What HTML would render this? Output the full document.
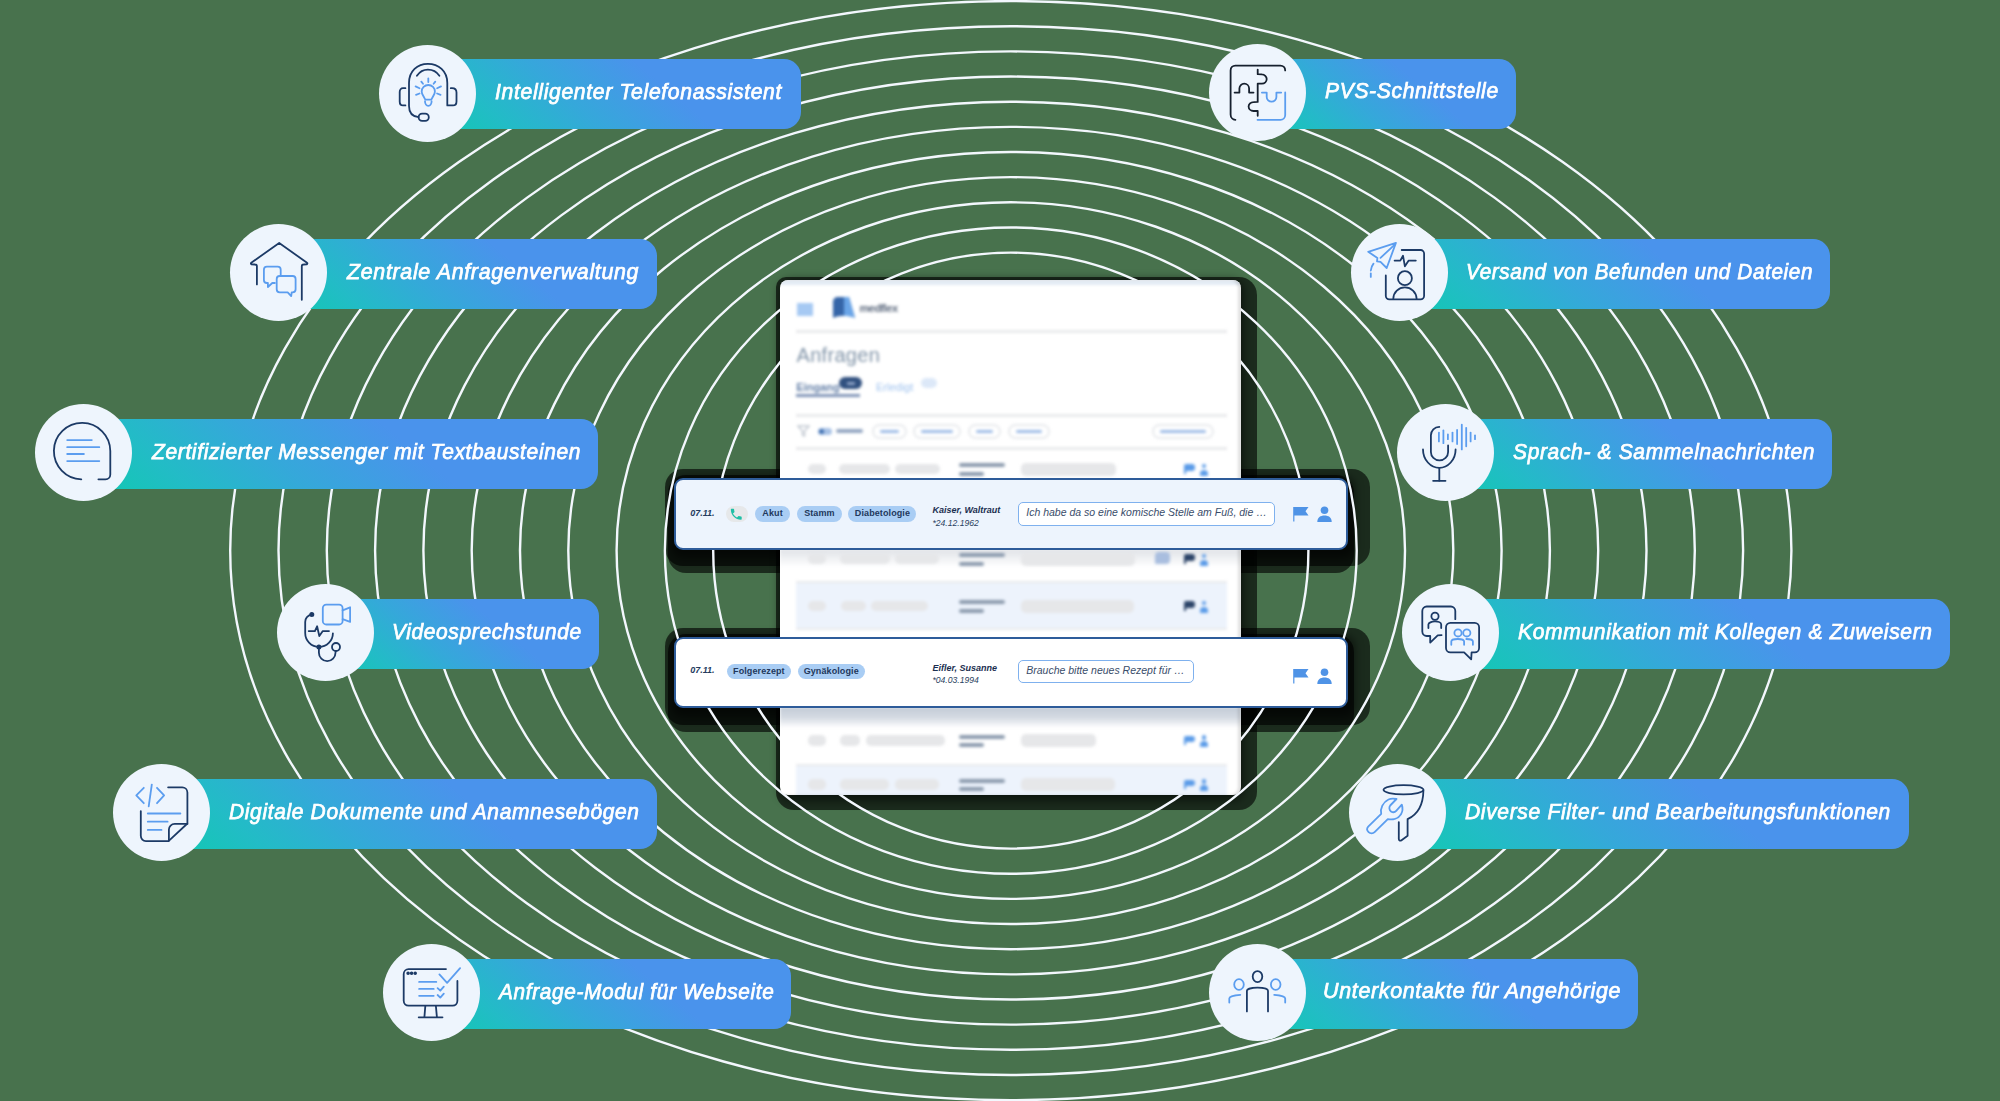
<!DOCTYPE html>
<html><head><meta charset="utf-8"><style>
*{box-sizing:border-box}
html,body{margin:0;padding:0}
body{width:2000px;height:1101px;background:#48724d;position:relative;overflow:hidden;font-family:"Liberation Sans",sans-serif}
.abs{position:absolute}
.bar{position:absolute;height:70px;border-radius:0 17px 17px 0;background:linear-gradient(40deg,#10cab0 0%,#22bcc6 18%,#35a8da 38%,#4a93ec 63%,#4a93ec 100%)}
.circ{position:absolute;width:97px;height:97px;border-radius:50%;background:#eef5fd}
.circ svg{position:absolute;left:0;top:0}
.ptxt{position:absolute;color:#fff;font-style:italic;font-size:22px;white-space:nowrap;line-height:1;transform-origin:0 0;-webkit-text-stroke:0.75px #fff;letter-spacing:0.7px}
.shadow{position:absolute;background:#000}
.win{position:absolute;left:780px;top:280px;width:460.5px;height:514.5px;background:#fff;border-radius:8px;overflow:hidden}
.wc{position:absolute;left:0;top:0;width:100%;height:100%;filter:blur(1.6px)}
.wc div{position:absolute}
.g{background:#e6e7e9;border-radius:5px}
.sep{background:#e9eaec;height:2.5px}
.row{position:absolute;left:674.25px;width:673.5px;border:2px solid #2e5c9a;border-radius:9px}
.row div, .row span{position:absolute;white-space:nowrap;line-height:1}
.tag{background:#a9cdf4;border-radius:8px;color:#22385c;font-size:9px;font-weight:bold;height:15.5px;padding-top:3.2px;text-align:center;letter-spacing:0.1px}
.dt{font-size:9px;font-weight:bold;font-style:italic;color:#243b5e}
.nm{font-size:9px;font-weight:bold;font-style:italic;color:#1b2f50}
.dob{font-size:8.6px;font-style:italic;color:#2a3f60}
.msg{background:#fff;border:1.2px solid #7fb1ee;border-radius:5px;height:23.5px;color:#3a4d6a;font-size:10.5px;font-style:italic;padding:4.3px 0 0 7.5px}
</style></head>
<body>
<div class="abs" style="left:776px;top:276.7px;width:481px;height:533px;border-radius:10px 18px 18px 18px;background:rgba(0,0,0,0.62)"></div>
<div class="abs" style="left:665.4px;top:469.4px;width:705px;height:97px;border-radius:18px;background:rgba(0,0,0,0.62)"></div>
<div class="abs" style="left:668px;top:475px;width:686px;height:98px;border-radius:18px;background:rgba(0,0,0,0.62)"></div>
<div class="abs" style="left:665.3px;top:628.3px;width:705px;height:97px;border-radius:18px;background:rgba(0,0,0,0.62)"></div>
<div class="abs" style="left:668px;top:634px;width:686px;height:98px;border-radius:18px;background:rgba(0,0,0,0.62)"></div>
<div class="abs" style="left:779px;top:279px;width:465px;height:522px;border-radius:12px;background:rgba(0,0,0,0.5);filter:blur(4px)"></div>
<div class="abs" style="left:671px;top:476px;width:684px;height:82px;border-radius:12px;background:rgba(0,0,0,0.5);filter:blur(4px)"></div>
<div class="abs" style="left:671px;top:635px;width:684px;height:82px;border-radius:12px;background:rgba(0,0,0,0.5);filter:blur(4px)"></div>
<svg class="abs" style="left:0;top:0" width="2000" height="1101"><g fill="none" stroke="#f3f7fd" stroke-width="2.4"><ellipse cx="1010.8" cy="550.6" rx="780.60" ry="549.50"/><ellipse cx="1010.8" cy="550.6" rx="732.30" ry="524.35"/><ellipse cx="1010.8" cy="550.6" rx="684.00" ry="499.20"/><ellipse cx="1010.8" cy="550.6" rx="635.70" ry="474.05"/><ellipse cx="1010.8" cy="550.6" rx="587.40" ry="448.90"/><ellipse cx="1010.8" cy="550.6" rx="539.10" ry="423.75"/><ellipse cx="1010.8" cy="550.6" rx="490.80" ry="398.60"/><ellipse cx="1010.8" cy="550.6" rx="442.50" ry="373.45"/><ellipse cx="1010.8" cy="550.6" rx="394.20" ry="348.30"/><ellipse cx="1010.8" cy="550.6" rx="345.90" ry="323.15"/><ellipse cx="1010.8" cy="550.6" rx="297.60" ry="298.00"/></g></svg>
<div class="win"><div class="wc"><div class="" style="left:0.0px;top:0.0px;width:460.5px;height:5.0px;background:#e3ebf4"></div><div class="" style="left:16.5px;top:23.0px;width:16.0px;height:13.0px;background:#a6c9f3"></div><svg style="position:absolute;left:52px;top:16px" width="24" height="24" viewBox="0 0 24 24"><path d="M1 22 L1 6 C1 3 3 1 6 1 L17 1 L23 22 C17 19 8 19 1 22 Z" fill="#3565a8"/><path d="M12 1 L17 1 L23 22 C20 20.5 16 20 12 20 Z" fill="#6aa5e8"/></svg><div style="left:79.5px;top:22px;font-size:11px;font-weight:bold;color:#5d6a7e;letter-spacing:-0.5px">medflex</div><div class="sep" style="left:16.0px;top:50.0px;width:430.8px;height:2.5px;"></div><div style="left:16.5px;top:63.5px;font-size:20px;color:#8194a8;letter-spacing:0.3px">Anfragen</div><div style="left:16.299999999999955px;top:101px;font-size:11px;font-weight:bold;color:#6580a8">Eingang</div><div class="" style="left:16.0px;top:114.2px;width:63.5px;height:2.8px;background:#7f93b6"></div><div class="" style="left:59.4px;top:97.0px;width:22.3px;height:12.0px;background:#30507f;border-radius:6px"></div><div class="" style="left:67.0px;top:101.5px;width:8.0px;height:3.0px;background:#8fa3c6;border-radius:1px"></div><div style="left:96px;top:101px;font-size:11px;color:#9fc2ee">Erledigt</div><div class="" style="left:140.5px;top:97.5px;width:16.5px;height:10.5px;background:#dce8f8;border-radius:6px"></div><div class="sep" style="left:16.0px;top:134.2px;width:430.8px;height:2.5px;"></div><svg style="position:absolute;left:16.5px;top:145px" width="13" height="12" viewBox="0 0 13 12"><path d="M1 1 L12 1 L7.5 6 L7.5 11 L5.5 10 L5.5 6 Z" fill="none" stroke="#bfc6cf" stroke-width="1.4"/></svg><div class="" style="left:37.8px;top:147.5px;width:14.0px;height:7.5px;background:#a8c2e6;border-radius:4px"></div><div class="" style="left:38.8px;top:148.5px;width:5.7px;height:5.5px;background:#3f6fb0;border-radius:3px"></div><div class="" style="left:56.0px;top:148.7px;width:26.6px;height:4.3px;background:#93a6c2;border-radius:2px"></div><div class="" style="left:92.4px;top:143.8px;width:34.3px;height:15.0px;border:2px solid #e8eaed;border-radius:8px"></div><div class="" style="left:100.4px;top:149.5px;width:18.3px;height:3.0px;background:#9dbbe6;border-radius:2px"></div><div class="" style="left:133.0px;top:143.8px;width:48.3px;height:15.0px;border:2px solid #e8eaed;border-radius:8px"></div><div class="" style="left:141.0px;top:149.5px;width:32.3px;height:3.0px;background:#9dbbe6;border-radius:2px"></div><div class="" style="left:188.3px;top:143.8px;width:32.9px;height:15.0px;border:2px solid #e8eaed;border-radius:8px"></div><div class="" style="left:196.3px;top:149.5px;width:16.9px;height:3.0px;background:#9dbbe6;border-radius:2px"></div><div class="" style="left:228.2px;top:143.8px;width:42.0px;height:15.0px;border:2px solid #e8eaed;border-radius:8px"></div><div class="" style="left:236.2px;top:149.5px;width:26.0px;height:3.0px;background:#9dbbe6;border-radius:2px"></div><div class="" style="left:371.8px;top:143.8px;width:62.2px;height:15.0px;border:2px solid #e8eaed;border-radius:8px"></div><div class="" style="left:379.8px;top:149.5px;width:46.2px;height:3.0px;background:#9dbbe6;border-radius:2px"></div><div class="sep" style="left:16.0px;top:167.0px;width:430.8px;height:2.5px;"></div><div class="g" style="left:28.0px;top:183.8px;width:18.0px;height:10.5px;"></div><div class="g" style="left:59.0px;top:183.8px;width:50.5px;height:10.5px;"></div><div class="g" style="left:114.5px;top:183.8px;width:45.0px;height:10.5px;"></div><div class="" style="left:179.2px;top:183.3px;width:46.2px;height:4.0px;background:#8c9bae;border-radius:2px"></div><div class="" style="left:178.5px;top:191.8px;width:25.2px;height:4.0px;background:#8c9bae;border-radius:2px"></div><div class="g" style="left:240.8px;top:182.8px;width:94.8px;height:13.0px;"></div><div class="" style="left:404.0px;top:184.3px;width:11.0px;height:6.5px;background:#5a9be8;border-radius:2px 3px 3px 1px"></div><div class="" style="left:404.0px;top:188.8px;width:1.8px;height:5.0px;background:#5a9be8"></div><div class="" style="left:421.5px;top:183.8px;width:4.5px;height:4.5px;background:#5a9be8;border-radius:50%"></div><div class="" style="left:419.6px;top:189.8px;width:8.4px;height:6.0px;background:#5a9be8;border-radius:4px 4px 1px 1px"></div><div class="" style="left:0.0px;top:269.0px;width:460.5px;height:23.0px;background:linear-gradient(#dfe2e6,rgba(255,255,255,0) 80%)"></div><div class="g" style="left:28.0px;top:273.8px;width:18.0px;height:10.5px;"></div><div class="g" style="left:59.6px;top:273.8px;width:50.4px;height:10.5px;"></div><div class="g" style="left:114.8px;top:273.8px;width:44.2px;height:10.5px;"></div><div class="" style="left:179.2px;top:273.3px;width:46.2px;height:4.0px;background:#8c9bae;border-radius:2px"></div><div class="" style="left:178.5px;top:281.8px;width:25.2px;height:4.0px;background:#8c9bae;border-radius:2px"></div><div class="g" style="left:240.8px;top:272.8px;width:114.2px;height:13.0px;"></div><div class="" style="left:375.0px;top:272.3px;width:15.0px;height:11.5px;background:#a9bedf;border-radius:4px 4px 4px 1px"></div><div class="" style="left:404.0px;top:274.3px;width:11.0px;height:6.5px;background:#2c4468;border-radius:2px 3px 3px 1px"></div><div class="" style="left:404.0px;top:278.8px;width:1.8px;height:5.0px;background:#2c4468"></div><div class="" style="left:421.5px;top:273.8px;width:4.5px;height:4.5px;background:#5a9be8;border-radius:50%"></div><div class="" style="left:419.6px;top:279.8px;width:8.4px;height:6.0px;background:#5a9be8;border-radius:4px 4px 1px 1px"></div><div class="sep" style="left:16.0px;top:300.5px;width:430.8px;height:2.5px;"></div><div class="" style="left:16.0px;top:303.0px;width:430.8px;height:44.5px;background:#edf3fc"></div><div class="g" style="left:28.0px;top:320.6px;width:18.0px;height:10.5px;"></div><div class="g" style="left:60.8px;top:320.6px;width:25.2px;height:10.5px;"></div><div class="g" style="left:90.8px;top:320.6px;width:57.6px;height:10.5px;"></div><div class="" style="left:179.2px;top:320.1px;width:46.2px;height:4.0px;background:#8c9bae;border-radius:2px"></div><div class="" style="left:178.5px;top:328.6px;width:25.2px;height:4.0px;background:#8c9bae;border-radius:2px"></div><div class="g" style="left:240.8px;top:319.6px;width:112.8px;height:13.0px;"></div><div class="" style="left:404.0px;top:321.1px;width:11.0px;height:6.5px;background:#2c4468;border-radius:2px 3px 3px 1px"></div><div class="" style="left:404.0px;top:325.6px;width:1.8px;height:5.0px;background:#2c4468"></div><div class="" style="left:421.5px;top:320.6px;width:4.5px;height:4.5px;background:#5a9be8;border-radius:50%"></div><div class="" style="left:419.6px;top:326.6px;width:8.4px;height:6.0px;background:#5a9be8;border-radius:4px 4px 1px 1px"></div><div class="sep" style="left:16.0px;top:347.5px;width:430.8px;height:2.5px;"></div><div class="" style="left:0.0px;top:427.0px;width:460.5px;height:21.0px;background:linear-gradient(#c2cad6,#d4dae2 50%,rgba(255,255,255,0))"></div><div class="g" style="left:28.0px;top:455.4px;width:18.0px;height:10.5px;"></div><div class="g" style="left:59.6px;top:455.4px;width:20.4px;height:10.5px;"></div><div class="g" style="left:86.0px;top:455.4px;width:79.0px;height:10.5px;"></div><div class="" style="left:179.2px;top:454.9px;width:46.2px;height:4.0px;background:#8c9bae;border-radius:2px"></div><div class="" style="left:178.5px;top:463.4px;width:25.2px;height:4.0px;background:#8c9bae;border-radius:2px"></div><div class="g" style="left:240.8px;top:454.4px;width:75.6px;height:13.0px;"></div><div class="" style="left:404.0px;top:455.9px;width:11.0px;height:6.5px;background:#5a9be8;border-radius:2px 3px 3px 1px"></div><div class="" style="left:404.0px;top:460.4px;width:1.8px;height:5.0px;background:#5a9be8"></div><div class="" style="left:421.5px;top:455.4px;width:4.5px;height:4.5px;background:#5a9be8;border-radius:50%"></div><div class="" style="left:419.6px;top:461.4px;width:8.4px;height:6.0px;background:#5a9be8;border-radius:4px 4px 1px 1px"></div><div class="sep" style="left:16.0px;top:483.5px;width:430.8px;height:2.5px;"></div><div class="" style="left:16.0px;top:486.0px;width:430.8px;height:34.0px;background:#edf3fc"></div><div class="g" style="left:28.0px;top:499.0px;width:18.0px;height:10.5px;"></div><div class="g" style="left:59.6px;top:499.0px;width:49.4px;height:10.5px;"></div><div class="g" style="left:114.5px;top:499.0px;width:44.5px;height:10.5px;"></div><div class="" style="left:179.2px;top:498.5px;width:46.2px;height:4.0px;background:#8c9bae;border-radius:2px"></div><div class="" style="left:178.5px;top:507.0px;width:25.2px;height:4.0px;background:#8c9bae;border-radius:2px"></div><div class="g" style="left:240.8px;top:498.0px;width:94.2px;height:13.0px;"></div><div class="" style="left:404.0px;top:499.5px;width:11.0px;height:6.5px;background:#5a9be8;border-radius:2px 3px 3px 1px"></div><div class="" style="left:404.0px;top:504.0px;width:1.8px;height:5.0px;background:#5a9be8"></div><div class="" style="left:421.5px;top:499.0px;width:4.5px;height:4.5px;background:#5a9be8;border-radius:50%"></div><div class="" style="left:419.6px;top:505.0px;width:8.4px;height:6.0px;background:#5a9be8;border-radius:4px 4px 1px 1px"></div></div><div class="abs" style="left:0;top:0;right:0;bottom:0;border-radius:8px;box-shadow:inset -3px 0 3px rgba(0,0,0,0.12)"></div></div>
<div class="row" style="top:478px;height:72px;background:#edf4fd"><span class="dt" style="left:14.0px;top:28.5px">07.11.</span><div style="left:49.8px;top:26.4px;width:22px;height:15.3px;border-radius:8px;background:#e6e8ea"></div><svg style="position:absolute;left:53.2px;top:26.8px" width="14.5" height="14.5" viewBox="0 0 24 24"><path fill="#1fbfa6" d="M6.6 10.8c1.4 2.8 3.8 5.1 6.6 6.6l2.2-2.2c.3-.3.7-.4 1-.2 1.1.4 2.3.6 3.6.6.6 0 1 .4 1 1V20c0 .6-.4 1-1 1C10.6 21 3 13.4 3 4c0-.6.4-1 1-1h3.5c.6 0 1 .4 1 1 0 1.3.2 2.5.6 3.6.1.3 0 .7-.2 1L6.6 10.8z"/></svg><div class="tag" style="left:78.8px;top:26.3px;width:35.0px">Akut</div><div class="tag" style="left:120.5px;top:26.3px;width:45.3px">Stamm</div><div class="tag" style="left:172.2px;top:26.3px;width:68.0px">Diabetologie</div><span class="nm" style="left:256.2px;top:26.4px">Kaiser, Waltraut</span><span class="dob" style="left:256.2px;top:38.8px">*24.12.1962</span><div class="msg" style="left:341.5px;top:22.2px;width:257.2px">Ich habe da so eine komische Stelle am Fuß, die …</div><svg style="position:absolute;left:616.2px;top:25.5px" width="17" height="16" viewBox="0 0 17 16"><path d="M1.2 15.5 L1.2 1 L16.5 1 L13.5 5.2 L16.5 9.5 L2.4 9.5 L2.4 15.5 Z" fill="#4f93e6"/></svg><svg style="position:absolute;left:640.5px;top:25.5px" width="15" height="17" viewBox="0 0 15 17"><circle cx="7.5" cy="4.3" r="3.8" fill="#4f93e6"/><path d="M0.3 16 C0.3 11.5 3.5 9.5 7.5 9.5 C11.5 9.5 14.7 11.5 14.7 16 Z" fill="#4f93e6"/></svg></div>
<div class="row" style="top:636.8px;height:71.7px;background:#ffffff"><span class="dt" style="left:14.0px;top:27.1px">07.11.</span><div class="tag" style="left:50.8px;top:24.9px;width:63.7px">Folgerezept</div><div class="tag" style="left:121.5px;top:24.9px;width:66.9px">Gynäkologie</div><span class="nm" style="left:256.2px;top:25.0px">Eifler, Susanne</span><span class="dob" style="left:256.2px;top:37.4px">*04.03.1994</span><div class="msg" style="left:341.5px;top:20.9px;width:175.9px">Brauche bitte neues Rezept für …</div><svg style="position:absolute;left:616.2px;top:29.6px" width="17" height="16" viewBox="0 0 17 16"><path d="M1.2 15.5 L1.2 1 L16.5 1 L13.5 5.2 L16.5 9.5 L2.4 9.5 L2.4 15.5 Z" fill="#4f93e6"/></svg><svg style="position:absolute;left:640.5px;top:29.6px" width="15" height="17" viewBox="0 0 15 17"><circle cx="7.5" cy="4.3" r="3.8" fill="#4f93e6"/><path d="M0.3 16 C0.3 11.5 3.5 9.5 7.5 9.5 C11.5 9.5 14.7 11.5 14.7 16 Z" fill="#4f93e6"/></svg></div>
<div class="bar" style="left:427.5px;top:59.0px;width:373.8px"></div>
<div class="circ" style="left:379.0px;top:44.5px"><svg width="97" height="97" viewBox="0 0 97 97" fill="none" stroke-width="1.8" stroke-linecap="round" stroke-linejoin="round">
<g stroke="#1c3a66">
<path d="M39.6 72.2 C33 71.5 30 67 30 61 L30 38 C30 26 38.5 18.9 48.9 18.9 C59.5 18.9 68.3 26 68.3 38 L68.3 60.4 L74 60.4 C76 60.4 77.5 58.8 77.5 56.4 L77.5 47.6 C77.5 45 76 43.2 73 43.2 L71.8 43.2"/>
<path d="M26.4 43.2 L24 43.2 C22 43.2 20.7 45 20.7 47 L20.7 56.4 C20.7 58.8 22 60.4 24 60.4 L26.4 60.4"/>
<path d="M37.9 30.8 C40.5 27 44.5 24.7 48.9 24.7 C53.5 24.7 57.8 27 60.4 30.8"/>
<rect x="39.6" y="68.7" width="10.2" height="7.1" rx="3.55"/>
</g>
<g stroke="#5b9def">
<path d="M46.3 54.6 L44.2 50.8 C43 48.8 42.7 47.8 42.7 46.4 C42.7 42.8 45.6 40 49.3 40 C53 40 55.9 42.8 55.9 46.4 C55.9 47.8 55.5 48.8 54.4 50.8 L52.3 54.6 Z"/>
<path d="M46 56.2 C46 58.8 47.4 60.8 49.3 60.8 C51.2 60.8 52.6 58.8 52.6 56.2"/>
<path d="M49.3 33.5 L49.3 37"/><path d="M42.3 36.6 L44 38.8"/><path d="M56.3 36.6 L54.6 38.8"/>
<path d="M36.6 41.4 L40.5 43.2"/><path d="M62 41.4 L58.1 43.2"/>
<path d="M37 49.8 L40.5 48.5"/><path d="M61.6 49.8 L58.1 48.5"/>
</g></svg></div>
<div class="ptxt" style="left:495.2px;top:81.0px;transform:scaleX(0.9600)">Intelligenter Telefonassistent</div>
<div class="bar" style="left:278.7px;top:239.4px;width:378.3px"></div>
<div class="circ" style="left:230.2px;top:224.1px"><svg width="97" height="97" viewBox="0 0 97 97" fill="none" stroke-width="1.8" stroke-linecap="round" stroke-linejoin="round">
<g stroke="#1c3a66">
<path d="M26.9 60.4 L26.9 42.3 C26.9 41 26 40.5 25 40.5 L21.5 40.3 C20.7 40 20.6 39.2 21.3 38.8 L49.2 18.9 L77 38.8 C77.6 39.2 77.5 40 76.8 40.3 L73.5 40.5 C72.5 40.5 71.8 41 71.8 42.3 L71.8 75.8"/>
</g>
<g stroke="#5b9def">
<path d="M50.7 50.8 L50.7 45.7 C50.7 44 49.4 42.7 47.7 42.7 L36.9 42.7 C35.2 42.7 33.9 44 33.9 45.7 L33.9 56 C33.9 57.7 35.2 59 36.9 59 L37.9 59 L37.9 63 L42.3 59 L44.9 59"/>
<path d="M49.7 52 L62.6 52 C64.3 52 65.6 53.3 65.6 55 L65.6 65.3 C65.6 67 64.3 68.3 62.6 68.3 L61.7 68.3 L61.2 72.2 L57.7 68.3 L49.7 68.3 C48 68.3 46.7 67 46.7 65.3 L46.7 55 C46.7 53.3 48 52 49.7 52 Z"/>
</g></svg></div>
<div class="ptxt" style="left:347.0px;top:260.6px;transform:scaleX(0.9721)">Zentrale Anfragenverwaltung</div>
<div class="bar" style="left:83.5px;top:419.0px;width:514.9px"></div>
<div class="circ" style="left:35.0px;top:404.0px"><svg width="97" height="97" viewBox="0 0 97 97" fill="none" stroke-width="1.8" stroke-linecap="round" stroke-linejoin="round">
<path stroke="#1c3a66" d="M46.3 75.3 A28.2 28.2 0 1 1 75.3 47.1 L75.3 70.5 C75.3 73.2 73.2 75.3 70.5 75.3 L63.4 75.3"/>
<g stroke="#5b9def"><path d="M32.2 36.1 L56.8 36.1"/><path d="M32.2 43.2 L64.3 43.2"/><path d="M32.2 50 L48.9 50"/><path d="M32.2 57.1 L64.3 57.1"/></g></svg></div>
<div class="ptxt" style="left:151.5px;top:440.5px;transform:scaleX(0.9512)">Zertifizierter Messenger mit Textbausteinen</div>
<div class="bar" style="left:325.7px;top:599.0px;width:273.6px"></div>
<div class="circ" style="left:277.2px;top:584.3px"><svg width="97" height="97" viewBox="0 0 97 97" fill="none" stroke-width="1.8" stroke-linecap="round" stroke-linejoin="round">
<g stroke="#1c3a66">
<path d="M34.8 30.4 C31 31.5 28.2 34 28.2 38 L28.2 49.1 C28.2 56.8 34.4 63 42 63 C49.7 63 55.9 56.8 55.9 49.3"/>
<path d="M41.9 63 L41.9 68.7 C41.9 73.3 45.6 77.1 50.2 77.1 C54.8 77.1 58.5 73.3 58.5 68.7 L58.7 67"/>
<circle cx="59" cy="63" r="4"/>
<path d="M31.7 47.1 L37.9 47.1 L40.1 42.3 L42.3 52 L45.8 47.1 L52 47.1"/>
<circle cx="34.8" cy="30.4" r="1.6" fill="#1c3a66"/>
<circle cx="41.9" cy="63" r="1.6" fill="#1c3a66"/>
</g>
<g stroke="#5b9def">
<rect x="45.8" y="20.7" width="19.8" height="19.8" rx="3.5"/>
<path d="M65.6 26.4 L73.1 23.3 L73.1 37.9 L65.6 35.2"/>
</g></svg></div>
<div class="ptxt" style="left:392.3px;top:620.8px;transform:scaleX(0.9495)">Videosprechstunde</div>
<div class="bar" style="left:161.6px;top:779.0px;width:495.8px"></div>
<div class="circ" style="left:113.1px;top:764.1px"><svg width="97" height="97" viewBox="0 0 97 97" fill="none" stroke-width="1.8" stroke-linecap="round" stroke-linejoin="round">
<g stroke="#1c3a66">
<path d="M55.1 23.3 L69.2 23.3 C72.1 23.3 74.4 25.6 74.4 28.6 L74.4 59.5 L55.5 77.1 L33 77.1 C30.1 77.1 27.8 74.8 27.8 71.8 L27.8 47.1"/>
<path d="M74.4 59.9 L61.7 59.9 C58.5 59.9 55.9 62.5 55.9 65.6 L55.9 76.7"/>
</g>
<g stroke="#5b9def">
<path d="M30.8 23.8 L23.3 31.4 L30.8 39.2"/><path d="M38.8 20.7 L35.7 42.3"/><path d="M44 23.8 L51.1 31.4 L44 39.2"/>
<path d="M34.8 49.5 L67.4 49.5"/><path d="M34.8 57.7 L54.6 57.7"/><path d="M34.8 65.9 L48.5 65.9"/>
</g></svg></div>
<div class="ptxt" style="left:229.0px;top:800.6px;transform:scaleX(0.9513)">Digitale Dokumente und Anamnesebögen</div>
<div class="bar" style="left:431.6px;top:959.0px;width:359.1px"></div>
<div class="circ" style="left:383.1px;top:944.2px"><svg width="97" height="97" viewBox="0 0 97 97" fill="none" stroke-width="1.8" stroke-linecap="round" stroke-linejoin="round">
<g stroke="#1c3a66">
<path d="M63 25.1 L25.6 25.1 C22.9 25.1 20.7 27.3 20.7 30 L20.7 56.8 C20.7 59.5 22.9 61.7 25.6 61.7 L69.6 61.7 C72.3 61.7 74.4 59.5 74.4 56.8 L74.4 37"/>
<path d="M42.3 62.1 L41.4 73.1"/><path d="M52.9 62.1 L53.9 73.1"/><path d="M35.7 73.3 L59.5 73.3"/>
<circle cx="25.1" cy="29.3" r="0.9" fill="#1c3a66"/><circle cx="28.6" cy="29.3" r="0.9" fill="#1c3a66"/><circle cx="32.2" cy="29.3" r="0.9" fill="#1c3a66"/>
</g>
<g stroke="#5b9def">
<path d="M56.4 30.4 L64.1 38.8 L77.1 24.2"/>
<path d="M36.1 37.9 L53.3 37.9"/><path d="M36.1 44.9 L50.7 44.9"/><path d="M36.1 51.8 L50.7 51.8"/>
<path d="M54.6 44.1 L57.3 46.7 L60.8 42.7"/><path d="M54.6 51 L57.3 53.6 L60.8 49.6"/>
</g></svg></div>
<div class="ptxt" style="left:498.9px;top:980.7px;transform:scaleX(0.9442)">Anfrage-Modul für Webseite</div>
<div class="bar" style="left:1257.5px;top:59.0px;width:258.6px"></div>
<div class="circ" style="left:1209.0px;top:43.9px"><svg width="97" height="97" viewBox="0 0 97 97" fill="none" stroke-width="1.8" stroke-linecap="round" stroke-linejoin="round">
<g stroke="#16202e">
<path d="M26.4 75.8 C23.7 75.8 21.6 73.4 21.6 70.5 L21.6 26.4 C21.6 23.7 23.7 21.6 26.4 21.6 L71.4 21.6 C74.1 21.6 76.2 23.7 76.2 26.4"/>
<path d="M25.6 48.6 L30.4 48.6 L30.4 44.5 C30.4 41.8 32.6 39.6 35.2 39.6 C37.9 39.6 40.1 41.8 40.1 44.5 L40.1 48.6 L44.5 48.6"/>
<path d="M48.7 25.6 L48.7 30.2 L52.9 30.4 C55.5 30.4 57.7 32.6 57.7 35.1 C57.7 37.6 55.5 39.6 52.9 39.6 L48.7 39.6 L48.7 57.9 L44.5 58.1 C41.8 58.1 39.6 60.2 39.6 62.6 C39.6 65 41.8 67 44.5 67 L48.7 67 L48.7 71.8"/>
</g>
<g stroke="#5b9def">
<path d="M52.9 48.6 L57.7 48.6 L57.7 52.9 C57.7 55.5 59.9 57.7 62.6 57.7 C65.2 57.7 67.4 55.5 67.4 52.9 L67.4 48.6 L72.2 48.6"/>
<path d="M76.2 48.5 L76.2 70.9 C76.2 73.6 74.1 75.8 71.4 75.8 L48.5 75.8"/>
</g></svg></div>
<div class="ptxt" style="left:1325.0px;top:80.4px;transform:scaleX(0.9558)">PVS-Schnittstelle</div>
<div class="bar" style="left:1399.2px;top:239.3px;width:430.8px"></div>
<div class="circ" style="left:1350.7px;top:224.0px"><svg width="97" height="97" viewBox="0 0 97 97" fill="none" stroke-width="1.8" stroke-linecap="round" stroke-linejoin="round">
<g stroke="#5b9def">
<path d="M44.9 18.9 L17.2 27.8 L26.4 33.9 L26 37.4 L29.5 37.9 L35.7 44 Z"/>
<path d="M29.5 33.9 L43.2 21.1"/>
<path d="M22.5 39.6 C21 41.5 20 44 19.8 46.5" /><path d="M19.8 49.5 L19.8 52.9"/>
</g>
<g stroke="#1c3a66">
<path d="M50.7 26 L69.6 26 C71.5 26 73.1 27.6 73.1 29.5 L73.1 71.8 C73.1 73.7 71.5 75.3 69.6 75.3 L38.3 75.3 C36.4 75.3 34.8 73.7 34.8 71.8 L34.8 51.5"/>
<path d="M43.6 36.6 L49.3 36.6 L52 31.7 L53.9 42.3 L57.7 36.6 L64.8 36.6"/>
<circle cx="53.9" cy="54.2" r="7"/>
<path d="M42.3 74.6 C42.5 68.3 47.6 63.4 53.9 63.4 C60.2 63.4 65.3 68.3 65.6 74.6"/>
</g></svg></div>
<div class="ptxt" style="left:1465.8px;top:260.5px;transform:scaleX(0.9375)">Versand von Befunden und Dateien</div>
<div class="bar" style="left:1445.5px;top:419.0px;width:386.5px"></div>
<div class="circ" style="left:1397.0px;top:404.2px"><svg width="97" height="97" viewBox="0 0 97 97" fill="none" stroke-width="1.8" stroke-linecap="round" stroke-linejoin="round">
<g stroke="#1c3a66">
<path d="M42.3 22.9 C37.6 22.9 33.9 26.6 33.9 31.3 L33.9 48 C33.9 52.7 37.6 56.4 42.5 56.4 C47.3 56.4 51.1 52.7 51.1 48 L51.1 41.4"/>
<path d="M26 45.4 C26 55.6 33.6 63.9 42.3 63.9 C51 63.9 58.6 55.6 58.6 45.4"/>
<path d="M42.3 63.9 L42.3 76.7"/><path d="M36.1 76.8 L48.5 76.8"/>
</g>
<g stroke="#5b9def"><path d="M41.9 28.6 L41.9 37.4"/><path d="M46.4 26.4 L46.4 39.2"/><path d="M50.9 30.4 L50.9 35.2"/><path d="M55.5 28.6 L55.5 37.4"/><path d="M60.1 26 L60.1 40.1"/><path d="M64.8 20.7 L64.8 45.4"/><path d="M69.2 23.8 L69.2 42.3"/><path d="M73.6 28.6 L73.6 37.4"/><path d="M78 31.3 L78 35.2"/></g></svg></div>
<div class="ptxt" style="left:1513.0px;top:440.7px;transform:scaleX(0.9525)">Sprach- &amp; Sammelnachrichten</div>
<div class="bar" style="left:1450.2px;top:599.0px;width:500.1px"></div>
<div class="circ" style="left:1401.7px;top:584.3px"><svg width="97" height="97" viewBox="0 0 97 97" fill="none" stroke-width="1.8" stroke-linecap="round" stroke-linejoin="round">
<g stroke="#1c3a66">
<path d="M53.3 35.2 L53.3 26.9 C53.3 24.5 51.3 22.5 48.9 22.5 L24.7 22.5 C22.3 22.5 20.3 24.5 20.3 26.9 L20.3 47.6 C20.3 50 22.3 52 24.7 52 L28.2 52 L28.2 58.6 L35.7 51.3 L39.6 51.1"/>
<circle cx="33" cy="32.2" r="3.6"/>
<path d="M26.4 44 L26.4 40.5 C26.4 38.8 29.5 37.4 33 37.4 C36.5 37.4 39.2 38.8 39.2 40.5 L39.2 44"/>
<path d="M48.4 38.8 L72.7 38.8 C75.1 38.8 77.1 40.8 77.1 43.2 L77.1 63.9 C77.1 66.3 75.1 68.3 72.7 68.3 L69.6 68.3 L69.2 75.3 L62.1 68.3 L48.4 68.3 C46 68.3 44 66.3 44 63.9 L44 43.2 C44 40.8 46 38.8 48.4 38.8 Z"/>
</g>
<g stroke="#5b9def">
<circle cx="56" cy="48.9" r="3.6"/><circle cx="64.8" cy="48.9" r="3.6"/>
<path d="M49.3 60.8 L49.3 57.5 C49.3 56 52.2 55 55.7 55 C59.2 55 62.1 56 62.1 57.5 L62.1 60.8"/>
<path d="M64.3 55 C67.8 55 70.9 56 70.9 57.5 L70.9 60.8"/>
</g></svg></div>
<div class="ptxt" style="left:1517.6px;top:620.8px;transform:scaleX(0.9561)">Kommunikation mit Kollegen &amp; Zuweisern</div>
<div class="bar" style="left:1397.3px;top:779.0px;width:511.7px"></div>
<div class="circ" style="left:1348.8px;top:764.3px"><svg width="97" height="97" viewBox="0 0 97 97" fill="none" stroke-width="1.8" stroke-linecap="round" stroke-linejoin="round">
<g stroke="#1c3a66">
<ellipse cx="54.5" cy="25.8" rx="20" ry="4.6"/>
<path d="M74.4 26.4 C74.2 40 68.5 50.5 58.6 55.1 L58.6 71.8 L52.2 76.4 C51 77.2 49.8 76.2 49.8 74.9 L49.8 58.1"/>
</g>
<path stroke="#5b9def" d="M19.2 62.6 L32.2 49.8 C31 44.2 34 38.2 39.5 35.5 C42 34.3 44.8 34.4 47.5 35 L41.2 41.5 C39.8 43.3 40.2 46.2 42 47.4 C43.8 48.6 46 48.2 47.2 46.8 L52.8 40.6 C53.8 43.6 53.8 47.2 52 50.2 C49.4 54.4 44 56.2 38.8 55.1 L25.6 68.2 C24 69.8 21.2 69.8 19.6 68.2 C18 66.6 17.8 64.2 19.2 62.6 Z"/></svg></div>
<div class="ptxt" style="left:1465.3px;top:800.8px;transform:scaleX(0.9551)">Diverse Filter- und Bearbeitungsfunktionen</div>
<div class="bar" style="left:1257.2px;top:959.4px;width:381.2px"></div>
<div class="circ" style="left:1208.7px;top:943.8px"><svg width="97" height="97" viewBox="0 0 97 97" fill="none" stroke-width="1.8" stroke-linecap="round" stroke-linejoin="round">
<g stroke="#1c3a66">
<ellipse cx="48.5" cy="32.6" rx="4.8" ry="5.5"/>
<path d="M37.9 67.4 L37.9 46.7 C37.9 45 42.5 43.6 48.5 43.6 C54.5 43.6 59 45 59 46.7 L59 67.4"/>
</g>
<g stroke="#5b9def">
<ellipse cx="30" cy="40.5" rx="4.8" ry="5.3"/><ellipse cx="66.7" cy="40.5" rx="4.8" ry="5.3"/>
<path d="M31.3 50.9 C25 51.2 20.3 52.8 20.3 54.6 L20.3 58.6"/>
<path d="M65.2 50.9 C71.5 51.2 76.2 52.8 76.2 54.6 L76.2 58.6"/>
</g></svg></div>
<div class="ptxt" style="left:1323.4px;top:980.3px;transform:scaleX(0.9737)">Unterkontakte für Angehörige</div>
</body></html>
